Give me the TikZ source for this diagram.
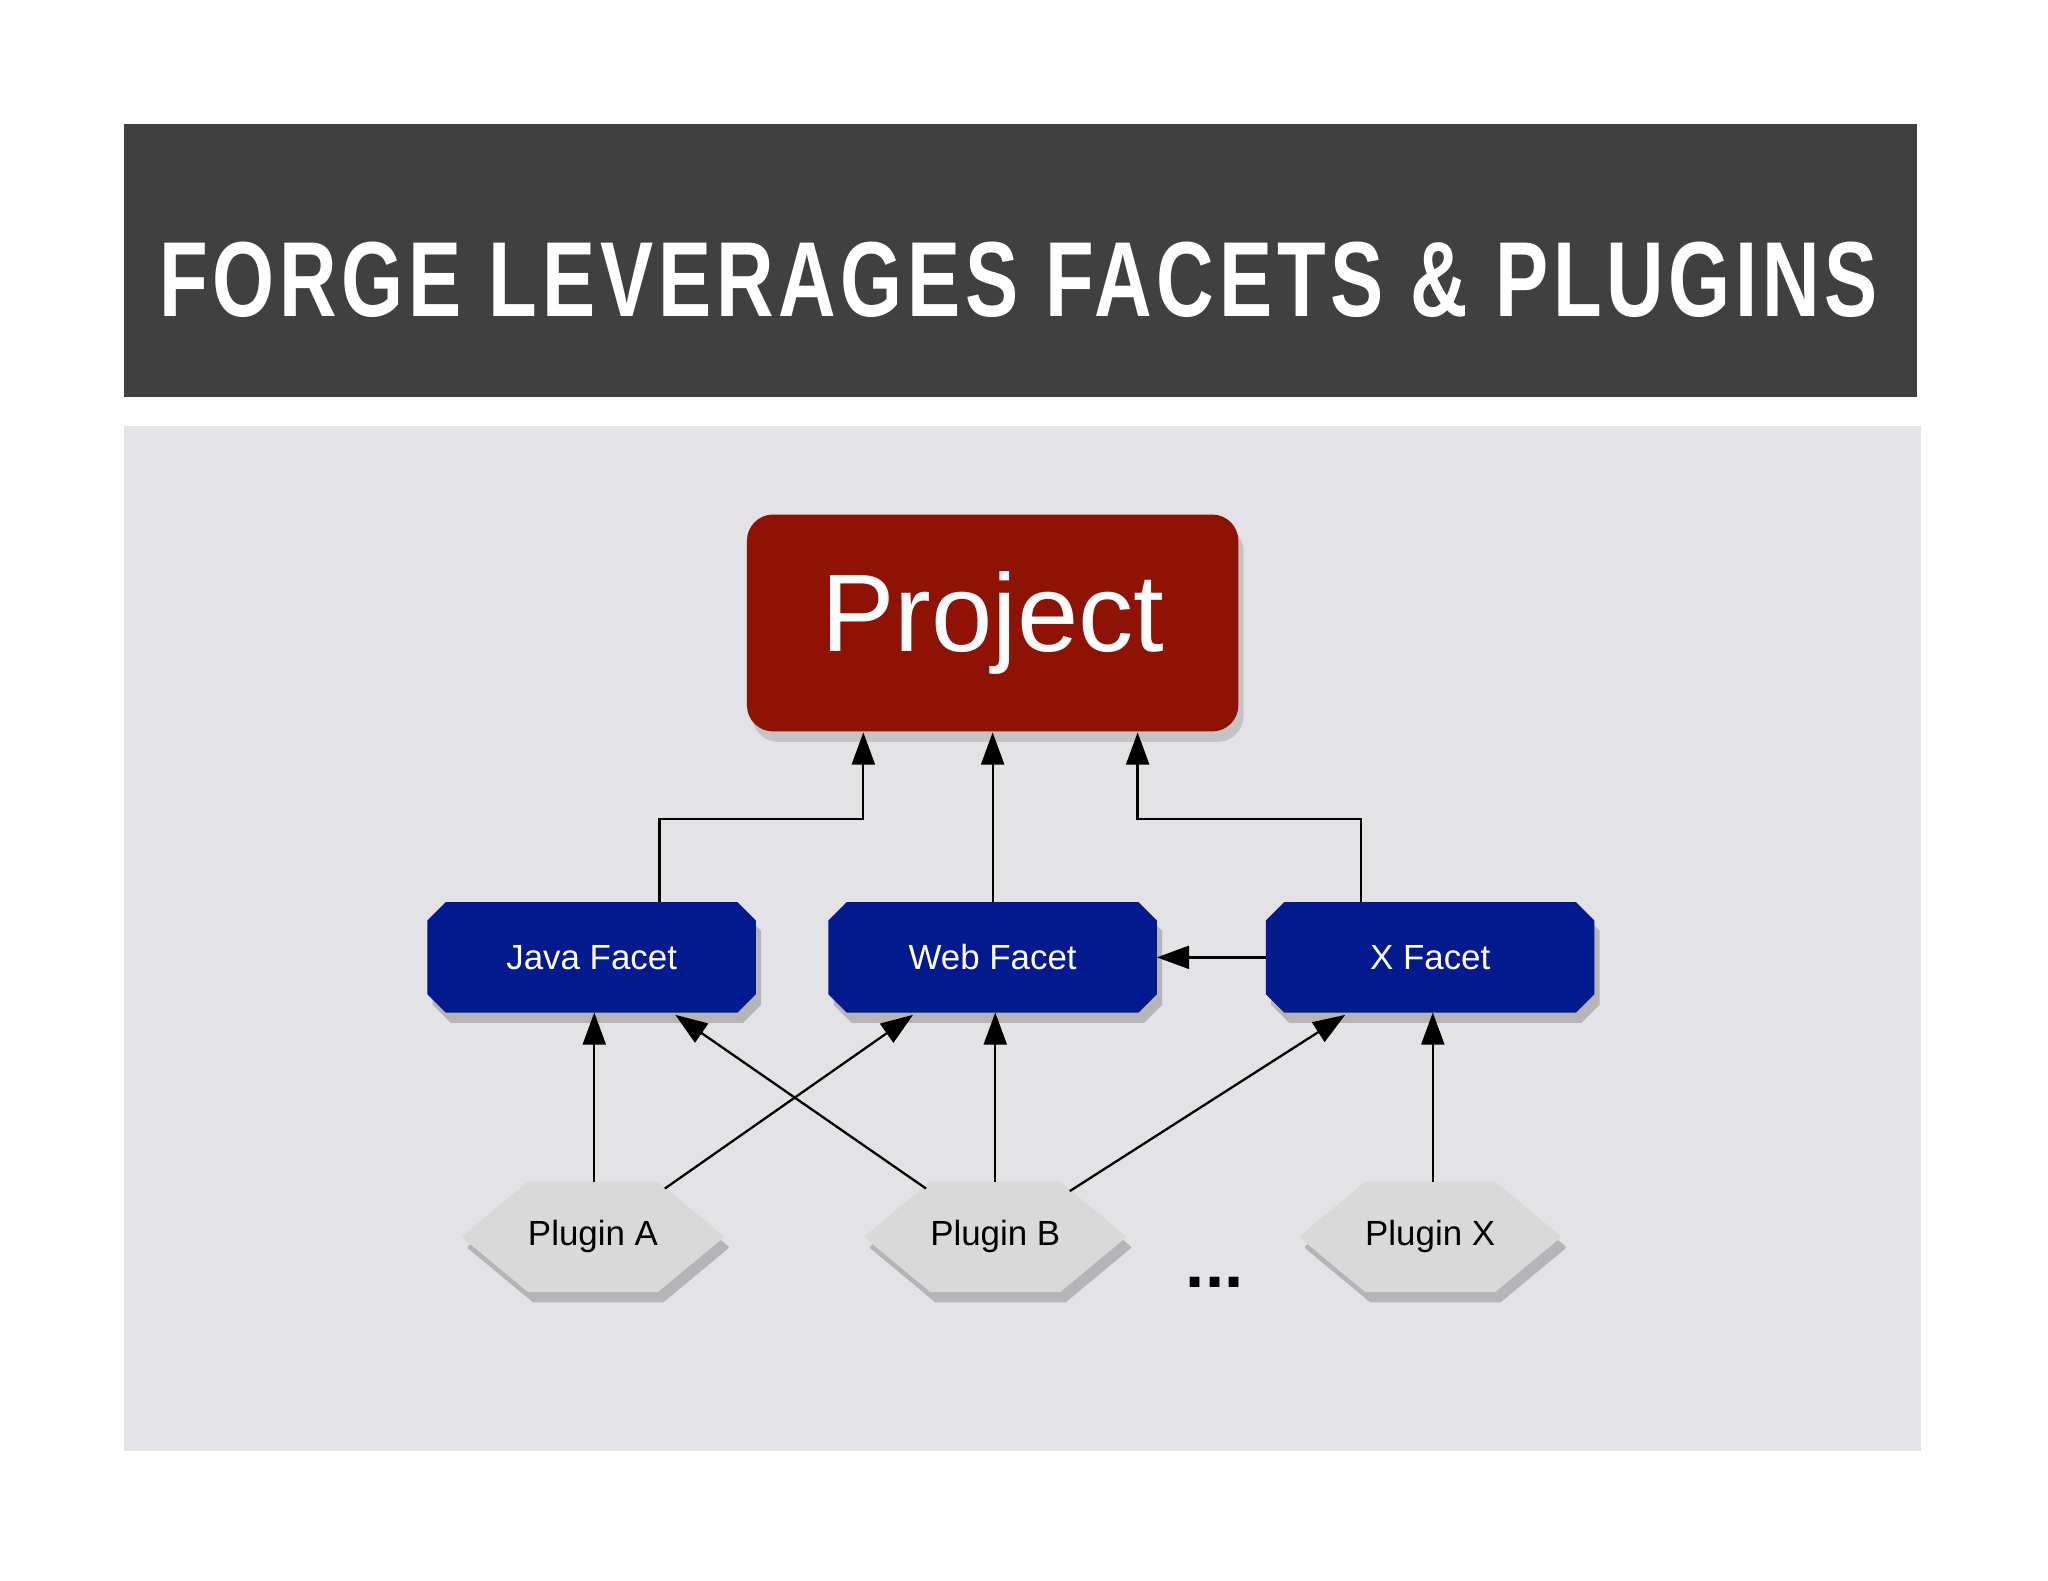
\documentclass[tikz,border=0pt]{standalone}
\usepackage{fontspec}
\setmainfont{Liberation Sans}
\usetikzlibrary{shadows,arrows.meta}
\definecolor{titlebg}{HTML}{404040}
\definecolor{panel}{HTML}{E3E2E4}
\definecolor{projred}{HTML}{8E1305}
\definecolor{facetblue}{HTML}{021A8E}
\definecolor{plug}{HTML}{D9D9D9}
\newfontfamily\titlefont[LetterSpace=6]{Liberation Sans Bold}
\newcommand{\octopath}[5]{% node, cx, cy, dx, dy
  ([shift={({#2+#4},{#5})}]#1.north west) -- ([shift={({-#2+#4},{#5})}]#1.north east) --
  ([shift={({#4},{#3+#5})}]#1.north east) -- ([shift={({#4},{-#3+#5})}]#1.south east) --
  ([shift={({-#2+#4},{#5})}]#1.south east) -- ([shift={({#2+#4},{#5})}]#1.south west) --
  ([shift={({#4},{-#3+#5})}]#1.south west) -- ([shift={({#4},{#3+#5})}]#1.north west) -- cycle}
\newcommand{\octo}[4]{%
  \fill[black,opacity=0.2] \octopath{#1}{#2}{#3}{4}{8};
  \fill[#4] \octopath{#1}{#2}{#3}{0}{0};}
\begin{document}
\begin{tikzpicture}[x=0.01cm,y=-0.01cm,
  box/.style={rectangle,minimum height=0.83cm,inner sep=0pt},
  facet/.style={box,minimum width=2.5cm},
  plugin/.style={box,minimum width=1.98cm},
  lbl/.style={font=\fontsize{7.6}{9}\selectfont},
  arr/.style={-{Triangle[length=7pt,width=5pt]},line width=0.5pt}]
\useasboundingbox (0,0) rectangle (1568,1210);
\fill[white] (0,0) rectangle (1568,1210);
\fill[titlebg] (95,95) rectangle (1468,304);
\node[text=white,inner sep=0pt] (title) at (780,214) {\resizebox{13.15cm}{0.57cm}{\titlefont FORGE LEVERAGES FACETS \& PLUGINS}};
\fill[panel] (95,326) rectangle (1471,1111);
\node[rounded corners=0.2cm,fill=projred,minimum width=3.76cm,minimum height=1.66cm,text=white,font=\fontsize{24}{28}\selectfont,drop shadow={shadow xshift=0.04cm,shadow yshift=-0.08cm,opacity=0.3}] (proj) at (760,477) {\raisebox{-0.06cm}{Project}};
\node[facet] (java) at (453,733) {};
\node[facet] (web) at (760,733) {};
\node[facet] (xf) at (1095,733) {};
\node[plugin] (pa) at (454,947) {};
\node[plugin] (pb) at (762,947) {};
\node[plugin] (px) at (1095,947) {};
\octo{java}{14}{14}{facetblue}
\octo{web}{14}{14}{facetblue}
\octo{xf}{14}{14}{facetblue}
\octo{pa}{50}{41.5}{plug}
\octo{pb}{50}{41.5}{plug}
\octo{px}{50}{41.5}{plug}
\node[lbl,text=white] at (java) {Java Facet};
\node[lbl,text=white] at (web) {Web Facet};
\node[lbl,text=white] at (xf) {X Facet};
\node[lbl] at (pa) {Plugin A};
\node[lbl] at (pb) {Plugin B};
\node[lbl] at (px) {Plugin X};
\node[font=\fontsize{15}{18}\selectfont\bfseries] (dots) at (930,982) {...};
\coordinate (ja) at (505,627);
\coordinate (xa) at (1042,627);
\draw[arr] (java.north -| 505,0) -- (ja) -- (661,627) -- (proj.south -| 661,0);
\draw[arr] (web.north) -- (proj.south -| web.north);
\draw[arr] (xf.north -| 1042,0) -- (xa) -- (871,627) -- (proj.south -| 871,0);
\draw[arr] (xf.west) -- (web.east);
\draw[arr] (pa.north -| 455,0) -- (java.south -| 455,0);
\draw[arr] (509,910) -- (699,777);
\draw[arr] (709,910) -- (517,777);
\draw[arr] (pb.north) -- (web.south -| pb.north);
\draw[arr] (819,912) -- (1030,777);
\draw[arr] (px.north -| 1097,0) -- (xf.south -| 1097,0);
\end{tikzpicture}
\end{document}
